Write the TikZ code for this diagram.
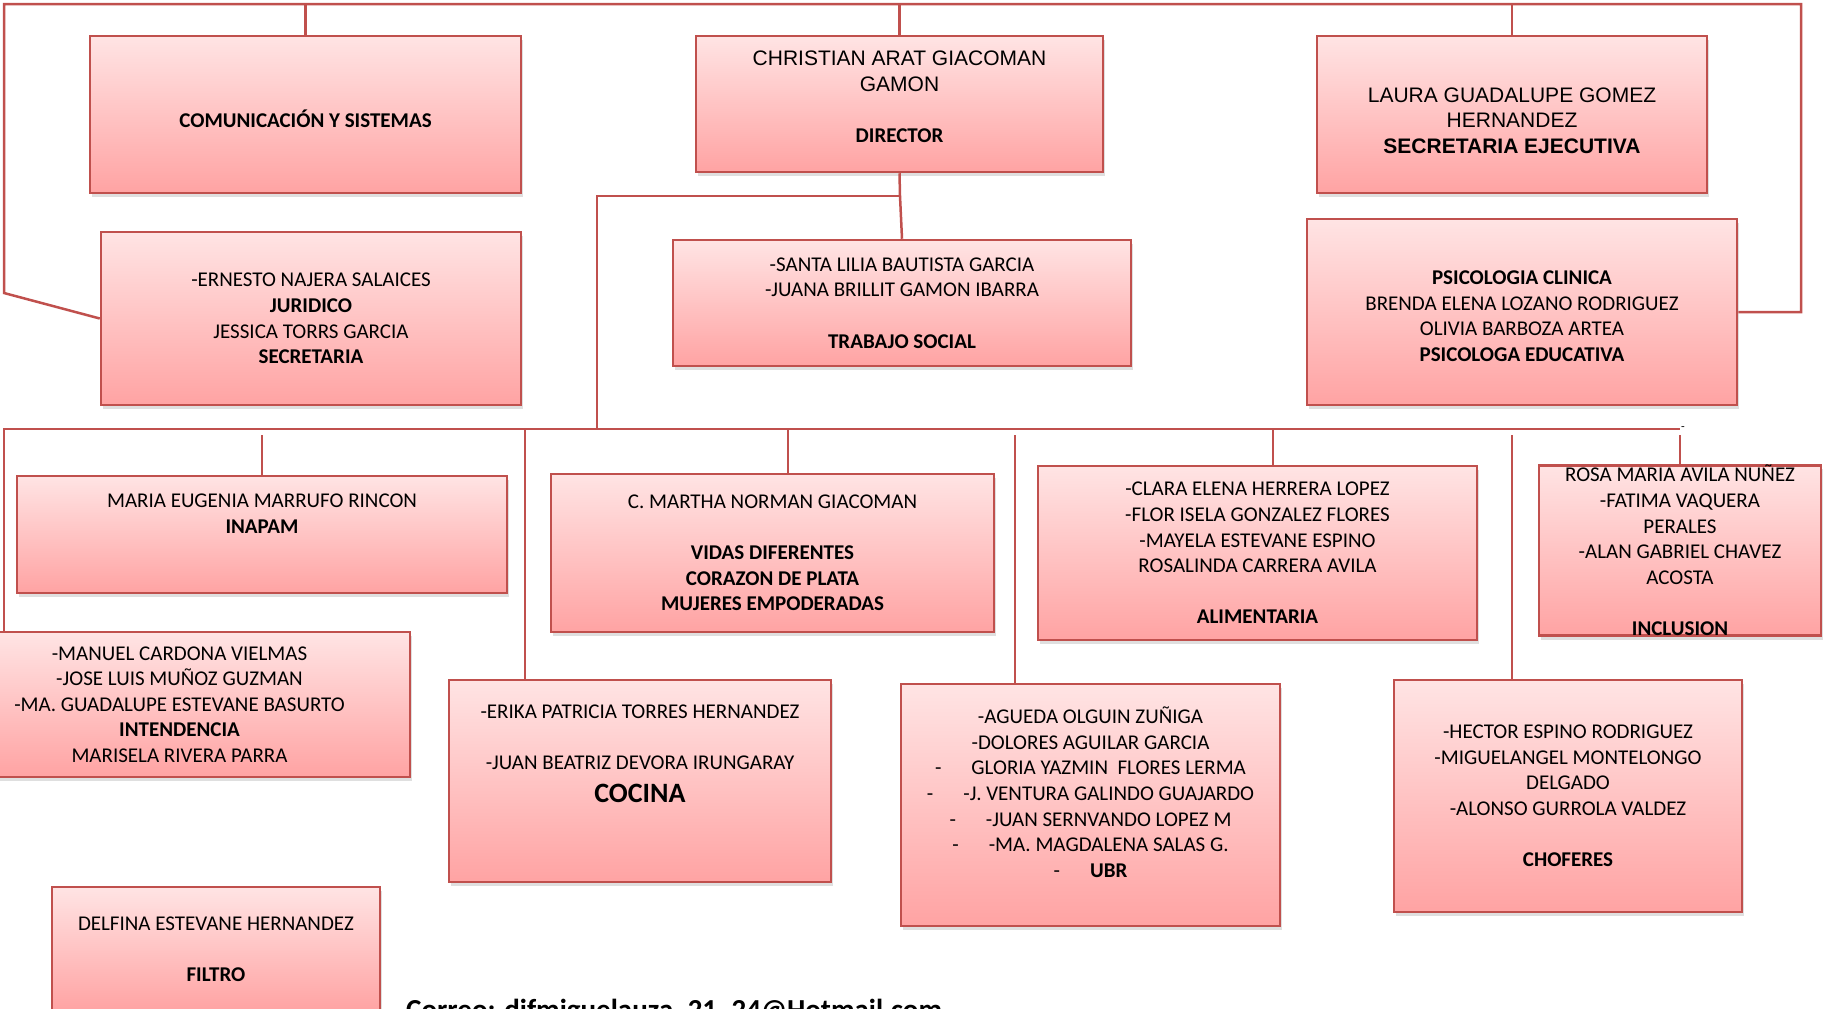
\documentclass[tikz,border=0pt]{standalone}
\usepackage{fontspec}
\setmainfont{Carlito}
\newfontfamily\arial{Liberation Sans}
\usetikzlibrary{shadows}
\definecolor{boxline}{RGB}{192,80,77}
\definecolor{boxtop}{RGB}{255,228,228}
\definecolor{boxbot}{RGB}{255,163,163}
\tikzset{
  org box/.style={
    draw=boxline,
    line width=2.5pt,
    top color=boxtop,
    bottom color=boxbot,
    drop shadow={shadow xshift=2pt, shadow yshift=-4pt, opacity=0.25},
    align=center,
    inner sep=0pt,
    font=\fontsize{21}{25.6}\selectfont,
  },
  org line/.style={
    draw=boxline,
    line width=2.5pt,
  },
}

\begin{document}
\begin{tikzpicture}[x=1pt, y=-1pt]
      \useasboundingbox (0,0) rectangle (1826,1009);

      \coordinate (top L) at (4,4);
      \coordinate (top R) at (1801,4);
      \coordinate (kink)  at (4,293);
      \coordinate (dir J) at (900,196);
      \coordinate (bus J) at (597,429);
      \coordinate (bus L) at (4,429);
      \coordinate (bus R) at (1680,429);
      \coordinate (gap)   at (0,435);

      % upper part
      \node[org box, minimum width=431pt, minimum height=157pt] (com) at (305.5,114.5)
        {~\\[0pt]\textbf{COMUNICACIÓN Y SISTEMAS}};
      \node[org box, minimum width=407pt, minimum height=136pt] (dir) at (899.5,104)
        {{\arial CHRISTIAN ARAT GIACOMAN}\\{\arial GAMON}\\[26pt]\textbf{DIRECTOR}\\[-11pt]~};
      \node[org box, minimum width=390pt, minimum height=157pt] (sec) at (1512,114.5)
        {~\\[1.5pt]{\arial LAURA GUADALUPE GOMEZ}\\{\arial HERNANDEZ}\\{\arial\bfseries SECRETARIA EJECUTIVA}};
      \node[org box, minimum width=420pt, minimum height=173pt] (jur) at (311,318.5)
        {-ERNESTO NAJERA SALAICES\\\textbf{JURIDICO}\\JESSICA TORRS GARCIA\\\textbf{SECRETARIA}};
      \node[org box, minimum width=458pt, minimum height=126pt] (ts) at (902,303)
        {-SANTA LILIA BAUTISTA GARCIA\\-JUANA BRILLIT GAMON IBARRA\\[25.6pt]\textbf{TRABAJO SOCIAL}};
      \node[org box, minimum width=430pt, minimum height=186pt] (psi) at (1522,312)
        {~\\[-3.5pt]\textbf{PSICOLOGIA CLINICA}\\BRENDA ELENA LOZANO RODRIGUEZ\\OLIVIA BARBOZA ARTEA\\\textbf{PSICOLOGA EDUCATIVA}};

      % lower part
      \node[org box, minimum width=490pt, minimum height=117pt] (ina) at (262,534.5)
        {MARIA EUGENIA MARRUFO RINCON\\\textbf{INAPAM}\\[16pt]~};
      \node[org box, minimum width=443pt, minimum height=158pt] (vid) at (772.5,553)
        {C. MARTHA NORMAN GIACOMAN\\[25.6pt]\textbf{VIDAS DIFERENTES}\\\textbf{CORAZON DE PLATA}\\\textbf{MUJERES EMPODERADAS}};
      \node[org box, minimum width=439pt, minimum height=174pt] (ali) at (1257.5,553)
        {-CLARA ELENA HERRERA LOPEZ\\-FLOR ISELA GONZALEZ FLORES\\-MAYELA ESTEVANE ESPINO\\ROSALINDA CARRERA AVILA\\[25.6pt]\textbf{ALIMENTARIA}};
      \node[org box, minimum width=282pt, minimum height=169pt] (inc) at (1680,550.5)
        {ROSA MARIA AVILA NUÑEZ\\-FATIMA VAQUERA\\PERALES\\-ALAN GABRIEL CHAVEZ\\ACOSTA\\[25.6pt]\textbf{INCLUSION}};
      \node[org box, minimum width=461pt, minimum height=145pt] (int) at (179.5,704.5)
        {-MANUEL CARDONA VIELMAS\\-JOSE LUIS MUÑOZ GUZMAN\\-MA. GUADALUPE ESTEVANE BASURTO\\\textbf{INTENDENCIA}\\MARISELA RIVERA PARRA};
      \node[org box, minimum width=382pt, minimum height=202pt] (coc) at (640,781)
        {-ERIKA PATRICIA TORRES HERNANDEZ\\[25.6pt]-JUAN BEATRIZ DEVORA IRUNGARAY\\[8pt]{\fontsize{28}{30}\selectfont\bfseries COCINA}\\[29pt]~};
      \node[org box, minimum width=379pt, minimum height=242pt] (ubr) at (1090.5,805)
        {-AGUEDA OLGUIN ZUÑIGA\\-DOLORES AGUILAR GARCIA\\-\hspace{30pt}GLORIA YAZMIN\ \ FLORES LERMA\\-\hspace{30pt}-J. VENTURA GALINDO GUAJARDO\\-\hspace{30pt}-JUAN SERNVANDO LOPEZ M\\-\hspace{30pt}-MA. MAGDALENA SALAS G.\\-\hspace{30pt}\textbf{UBR}\\~};
      \node[org box, minimum width=348pt, minimum height=232pt] (cho) at (1568,796)
        {-HECTOR ESPINO RODRIGUEZ\\-MIGUELANGEL MONTELONGO\\DELGADO\\-ALONSO GURROLA VALDEZ\\[25.6pt]\textbf{CHOFERES}};
      \node[org box, minimum width=328pt, minimum height=124pt] (fil) at (216,949)
        {DELFINA ESTEVANE HERNANDEZ\\[25.6pt]\textbf{FILTRO}};

      \node[anchor=base west, inner sep=0pt, font=\fontsize{29}{34}\selectfont\bfseries] (mail) at (406,1019)
        {Correo: difmiguelauza\_21\_24@Hotmail.com};
      \node[inner sep=0pt, font=\fontsize{12}{12}\selectfont] (mark) at (1683,429) {-};

      % frame round the top
      \draw[org line] (jur.west) -- (kink) -- (top L) -- (top R) -- (top R |- psi.east) -- (psi.east);
      \draw[org line] (com.north) -- (com.north |- top L);
      \draw[org line] (dir.north) -- (dir.north |- top L);
      \draw[org line] (sec.north) -- (sec.north |- top L);

      % director down to the bus
      \draw[org line] (dir.south) -- (dir J) -- (ts.north);
      \draw[org line] (dir J) -| (bus J);
      \draw[org line] (int.north -| bus L) -- (bus L) -- (bus R);

      % drops from the bus
      \draw[org line] (ina.north) -- (ina.north |- gap);
      \draw[org line] (525,0 |- bus L) -- (525,0 |- coc.north);
      \draw[org line] (788,0 |- bus L) -- (788,0 |- vid.north);
      \draw[org line] (1015,0 |- gap) -- (1015,0 |- ubr.north);
      \draw[org line] (1273,0 |- bus L) -- (1273,0 |- ali.north);
      \draw[org line] (1512,0 |- gap) -- (1512,0 |- cho.north);
      \draw[org line] (inc.north) -- (inc.north |- gap);
\end{tikzpicture}
\end{document}
